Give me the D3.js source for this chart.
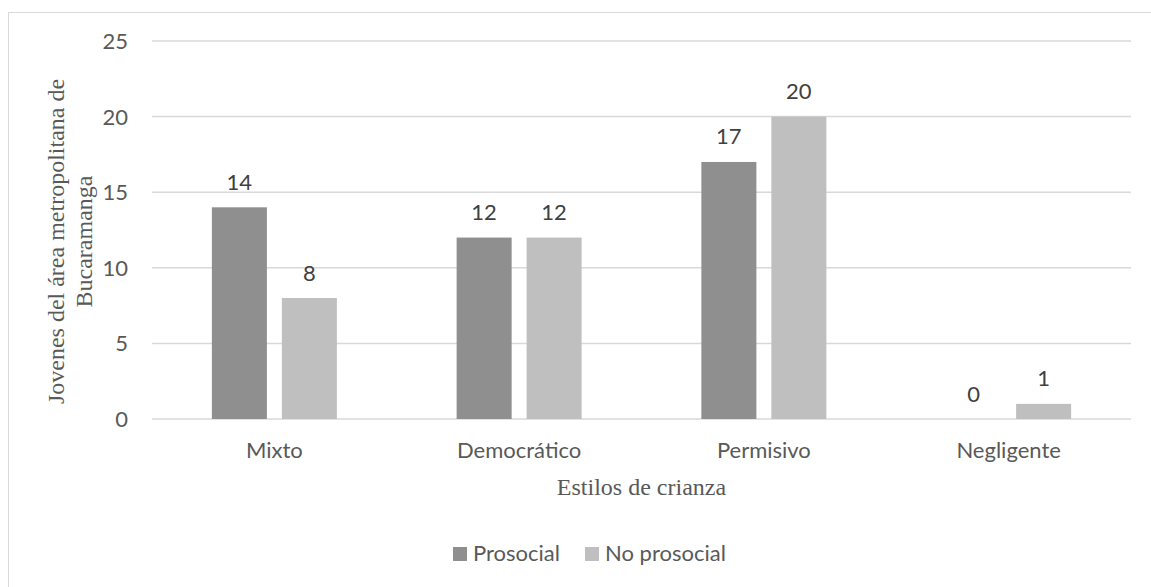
<!DOCTYPE html>
<html>
<head>
<meta charset="utf-8">
<script src="https://cdn.jsdelivr.net/npm/d3@7"></script>
<style>
  html, body { margin: 0; padding: 0; background: #fff; }
  svg { display: block; }
</style>
</head>
<body>
<svg id="chart" width="1151" height="587"></svg>
<script>
const categories = ["Mixto", "Democrático", "Permisivo", "Negligente"];
const seriesNames = ["Prosocial", "No prosocial"];
const prosocial = [14, 12, 17, 0];
const noProsocial = [8, 12, 20, 1];
const yTicks = [0, 5, 10, 15, 20, 25];
const colors = ["#8f8f8f", "#bfbfbf"];
const yTitleLines = ["Jovenes del área metropolitana de", "Bucaramanga"];
const xTitle = "Estilos de crianza";

const seriesValues = [prosocial, noProsocial];
const svg = d3.select("#chart");
const sans = "Lato, 'Open Sans', sans-serif";
const serif = "'Liberation Serif', 'Times New Roman', serif";

const plot = { left: 152, right: 1131, top: 41, bottom: 419 };

// chart border
svg.append("rect")
  .attr("x", 8.5).attr("y", 12.5)
  .attr("width", 1160).attr("height", 600)
  .attr("fill", "none").attr("stroke", "#d9d9d9").attr("stroke-width", 1);

const y = d3.scaleLinear().domain([0, 25]).range([plot.bottom, plot.top]);
const x0 = d3.scaleBand().domain(categories).range([plot.left, plot.right]).padding(0);
const pairWidth = 125;
const x1 = d3.scaleBand().domain(seriesNames).range([0, pairWidth]).paddingInner(0.214).paddingOuter(0);

// gridlines
svg.append("g").selectAll("line").data(yTicks).join("line")
  .attr("x1", plot.left).attr("x2", plot.right)
  .attr("y1", d => y(d)).attr("y2", d => y(d))
  .attr("stroke", "#d9d9d9").attr("stroke-width", 1.5);

// y tick labels
svg.append("g").selectAll("text").data(yTicks).join("text")
  .attr("x", 128).attr("y", d => y(d) + 8)
  .attr("text-anchor", "end")
  .attr("font-family", sans).attr("font-size", 22)
  .attr("fill", "#595959")
  .text(d => d);

// bars
const data = [];
categories.forEach((c, i) => {
  seriesNames.forEach((s, j) => {
    data.push({ cat: c, series: s, value: seriesValues[j][i], color: colors[j] });
  });
});
const barX = d => x0(d.cat) + (x0.bandwidth() - pairWidth) / 2 + x1(d.series);

svg.append("g").selectAll("rect").data(data.filter(d => d.value > 0)).join("rect")
  .attr("x", barX)
  .attr("y", d => y(d.value))
  .attr("width", x1.bandwidth())
  .attr("height", d => y(0) - y(d.value))
  .attr("fill", d => d.color);

// data labels
svg.append("g").selectAll("text").data(data).join("text")
  .attr("x", d => barX(d) + x1.bandwidth() / 2)
  .attr("y", d => y(d.value) - 17.5)
  .attr("text-anchor", "middle")
  .attr("font-family", sans).attr("font-size", 22)
  .attr("fill", "#404040")
  .text(d => d.value);

// category labels
svg.append("g").selectAll("text").data(categories).join("text")
  .attr("x", d => x0(d) + x0.bandwidth() / 2)
  .attr("y", 458)
  .attr("text-anchor", "middle")
  .attr("font-family", sans).attr("font-size", 22)
  .attr("fill", "#595959")
  .text(d => d);

// x axis title
svg.append("text")
  .attr("x", (plot.left + plot.right) / 2).attr("y", 495)
  .attr("text-anchor", "middle")
  .attr("font-family", serif).attr("font-size", 24)
  .attr("fill", "#595959")
  .text(xTitle);

// y axis title
const yt = svg.append("text")
  .attr("transform", "translate(0,241.5) rotate(-90)")
  .attr("text-anchor", "middle")
  .attr("font-family", serif).attr("font-size", 24)
  .attr("fill", "#595959");
yTitleLines.forEach((line, i) => {
  yt.append("tspan").attr("x", 0).attr("y", 63.5 + i * 28).text(line);
});

// legend
const legendX = [453, 585];
const lg = svg.append("g").selectAll("g").data(seriesNames).join("g")
  .attr("transform", (d, i) => `translate(${legendX[i]},547)`);
lg.append("rect").attr("width", 14).attr("height", 14).attr("fill", (d, i) => colors[i]);
lg.append("text").attr("x", 20).attr("y", 14)
  .attr("font-family", sans).attr("font-size", 22)
  .attr("fill", "#595959")
  .text(d => d);
</script>
</body>
</html>
